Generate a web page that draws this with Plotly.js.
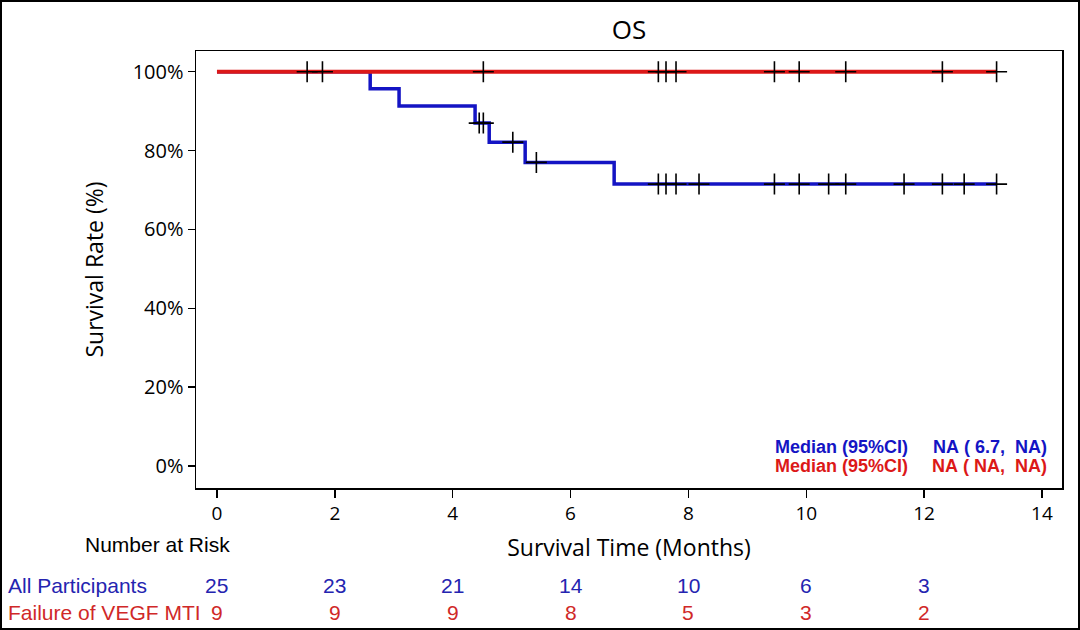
<!DOCTYPE html>
<html>
<head>
<meta charset="utf-8">
<script src="https://cdn.plot.ly/plotly-3.0.1.min.js"></script>
<style>
  html, body { margin: 0; padding: 0; background: #fff; }
  #wrap { position: relative; width: 1080px; height: 630px; }
  #chart { width: 1080px; height: 630px; }
  #frame { position: absolute; left: 0; top: 0; width: 1076px; height: 626px;
           border: 2px solid #000; pointer-events: none; }
</style>
</head>
<body>
<div id="wrap">
  <div id="chart"></div>
  <div id="frame"></div>
</div>
<script>
// step points of the KM curves (months, survival %)
const allTimes = [0, 2.60, 3.09, 4.38, 4.62, 5.23, 6.74, 13.23];
const allSurv = [100, 95.65, 91.30, 86.96, 82.13, 77.00, 71.50, 71.50];
const allCensor = [1.53, 1.79, 4.45, 4.52, 5.02, 5.42, 7.49, 7.62, 7.79, 8.18,
  9.46, 9.88, 10.38, 10.67, 11.66, 12.31, 12.68, 13.23];

const vegfTimes = [0, 13.23];
const vegfSurv = [100, 100];
const vegfCensor = [4.52, 7.49, 7.62, 7.79, 9.46, 9.88, 10.67, 12.31, 13.23];

const yTicks = [0, 20, 40, 60, 80, 100];

// number at risk table
const riskTimes = [0, 2, 4, 6, 8, 10, 12];
const allRisk = [25, 23, 21, 14, 10, 6, 3];
const vegfRisk = [9, 9, 9, 8, 5, 3, 2];

const blue = "#1414c4";
const red = "#dc1818";
const blueText = "#2424b0";
const redText = "#d02828";

// survival value at time t for a step curve
function stepAt(times, surv, t) {
  let v = surv[0];
  for (let i = 0; i < times.length; i++) {
    if (times[i] <= t) v = surv[i];
  }
  return v;
}

const censorMarker = {
  symbol: "cross-thin",
  size: 15,
  color: "#000",
  line: { width: 1.6, color: "#000" },
};

const data = [
  {
    x: allTimes, y: allSurv, type: "scatter", mode: "lines",
    line: { shape: "hv", color: blue, width: 3.5 },
    hoverinfo: "skip",
  },
  {
    x: vegfTimes, y: vegfSurv, type: "scatter", mode: "lines",
    line: { shape: "hv", color: red, width: 4 },
    hoverinfo: "skip",
  },
  {
    x: allCensor, y: allCensor.map((t) => stepAt(allTimes, allSurv, t)),
    type: "scatter", mode: "markers", marker: censorMarker, hoverinfo: "skip",
  },
  {
    x: vegfCensor, y: vegfCensor.map((t) => stepAt(vegfTimes, vegfSurv, t)),
    type: "scatter", mode: "markers", marker: censorMarker, hoverinfo: "skip",
  },
];

const tableFont = "Liberation Sans, Arial, sans-serif";
const sp = "\u00a0";

const annotations = [
  {
    text: "Number at Risk", xref: "paper", yref: "paper",
    x: -0.045, y: -0.1304, xanchor: "center", yanchor: "middle",
    showarrow: false, font: { family: tableFont, size: 21, color: "#000" },
  },
  {
    text: "All Participants", xref: "paper", yref: "paper",
    x: -0.219, y: -0.222, xanchor: "left", yanchor: "middle",
    showarrow: false, font: { family: tableFont, size: 21, color: blueText },
  },
  {
    text: "Failure of VEGF MTI", xref: "paper", yref: "paper",
    x: -0.219, y: -0.284, xanchor: "left", yanchor: "middle",
    showarrow: false, font: { family: tableFont, size: 21, color: redText },
  },
  {
    text: "Median (95%CI)", xref: "paper", yref: "paper",
    x: 0.824, y: 0.0938, xanchor: "right", yanchor: "middle",
    showarrow: false, font: { family: tableFont, size: 18, color: blue, weight: "bold" },
  },
  {
    text: "NA" + sp + "(" + sp + "6.7," + sp + sp + "NA)", xref: "paper", yref: "paper",
    x: 0.985, y: 0.0938, xanchor: "right", yanchor: "middle",
    showarrow: false, font: { family: tableFont, size: 18, color: blue, weight: "bold" },
  },
  {
    text: "Median (95%CI)", xref: "paper", yref: "paper",
    x: 0.824, y: 0.0503, xanchor: "right", yanchor: "middle",
    showarrow: false, font: { family: tableFont, size: 18, color: red, weight: "bold" },
  },
  {
    text: "NA" + sp + "(" + sp + "NA," + sp + sp + "NA)", xref: "paper", yref: "paper",
    x: 0.985, y: 0.0503, xanchor: "right", yanchor: "middle",
    showarrow: false, font: { family: tableFont, size: 18, color: red, weight: "bold" },
  },
];

riskTimes.forEach((t, i) => {
  annotations.push({
    text: String(allRisk[i]), xref: "x", yref: "paper",
    x: t, y: -0.222, xanchor: "center", yanchor: "middle",
    showarrow: false, font: { family: tableFont, size: 21, color: blueText },
  });
  annotations.push({
    text: String(vegfRisk[i]), xref: "x", yref: "paper",
    x: t, y: -0.284, xanchor: "center", yanchor: "middle",
    showarrow: false, font: { family: tableFont, size: 21, color: redText },
  });
});

const axisFont = "Open Sans, DejaVu Sans, sans-serif";

const layout = {
  width: 1080,
  height: 630,
  margin: { t: 51, l: 196, r: 18, b: 142 },
  paper_bgcolor: "#fff",
  plot_bgcolor: "#fff",
  showlegend: false,
  title: {
    text: "OS",
    x: 0.5, xref: "paper", y: 0.952, yanchor: "middle",
    font: { family: axisFont, size: 26, color: "#000" },
  },
  xaxis: {
    range: [-0.356, 14.34],
    tickmode: "linear", tick0: 0, dtick: 2,
    ticks: "outside", ticklen: 8, tickwidth: 1.5, tickcolor: "#000",
    showline: true, mirror: true, linecolor: "#000", linewidth: 1.5,
    showgrid: false, zeroline: false,
    tickfont: { family: axisFont, size: 19, color: "#000" },
    title: {
      text: "Survival Time (Months)", standoff: 14,
      font: { family: axisFont, size: 23, color: "#000" },
    },
  },
  yaxis: {
    range: [-5.58, 105.25],
    tickmode: "array", tickvals: yTicks,
    ticktext: yTicks.map((v) => v + "%"),
    ticks: "outside", ticklen: 7, tickwidth: 1.5, tickcolor: "#000",
    showline: true, mirror: true, linecolor: "#000", linewidth: 1.5,
    showgrid: false, zeroline: false,
    tickfont: { family: axisFont, size: 20, color: "#000" },
    title: {
      text: "Survival Rate (%)", standoff: 22,
      font: { family: axisFont, size: 23, color: "#000" },
    },
  },
  annotations: annotations,
};

Plotly.newPlot("chart", data, layout, { displayModeBar: false, staticPlot: true });
</script>
</body>
</html>
